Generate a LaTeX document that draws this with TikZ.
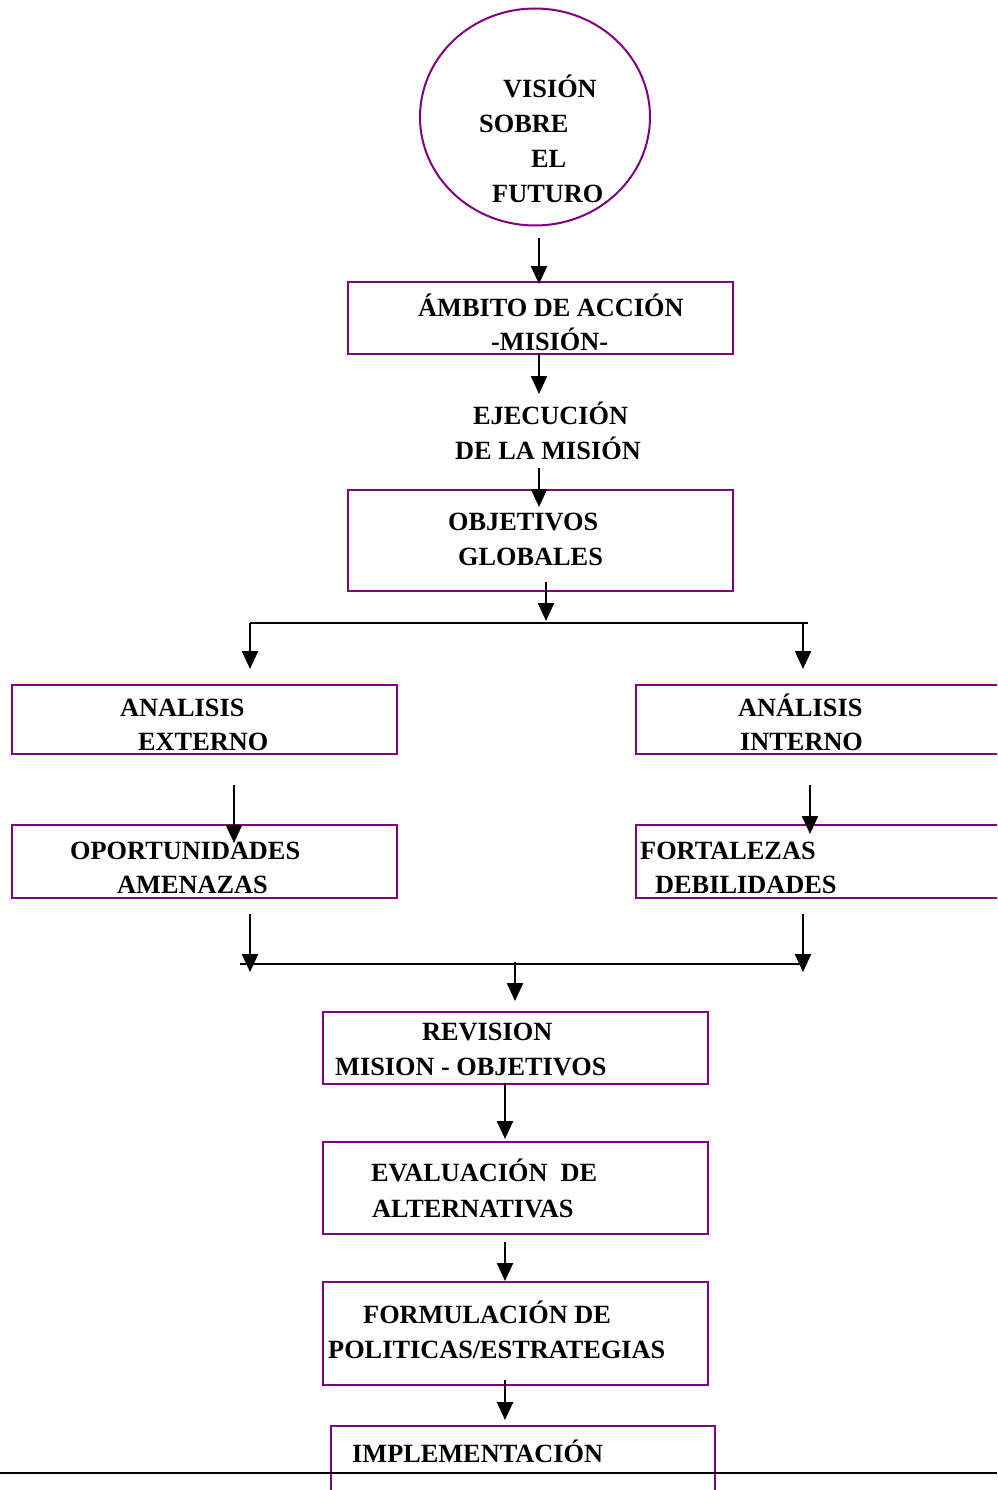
\documentclass[tikz,border=0pt]{standalone}
\usepackage{fontspec}
\setmainfont{Liberation Serif}
\usetikzlibrary{arrows.meta,shapes.geometric}
\definecolor{boxpurple}{RGB}{128,0,128}
\tikzset{
  every picture/.style={x=1pt,y=-1pt},
  boxnode/.style={draw=boxpurple, line width=2pt, rectangle, inner sep=0pt, anchor=north west},
  lbl/.style={anchor=base west, inner sep=0pt, yshift=1.5pt, font=\fontsize{26.3}{35}\selectfont\bfseries},
  arr/.style={line width=2.4pt, -{Triangle[width=16pt,length=18pt]}},
  ln/.style={line width=2.2pt}
}
\begin{document}
\begin{tikzpicture}
\useasboundingbox (0,0) rectangle (997,1490);
\clip (0,0) rectangle (997,1490);
\fill[white] (0,0) rectangle (997,1490);

% Circle
\node[draw=boxpurple, line width=2pt, ellipse, minimum width=230pt, minimum height=217pt, inner sep=0pt] (vis) at (535,117) {};
\node[lbl] (v1) at (503,99) {VISIÓN};
\node[lbl] (v2) at (479,134) {SOBRE};
\node[lbl] (v3) at (531,169) {EL};
\node[lbl] (v4) at (492,204) {FUTURO};

% Box 1
\node[boxnode, minimum width=385pt, minimum height=72pt] (amb) at (347,281) {};
\node[lbl] (a1) at (418,318) {ÁMBITO DE ACCIÓN};
\node[lbl] (a2) at (491,352) {-MISIÓN-};

% Ejecucion
\node[lbl] (e1) at (473,426) {EJECUCIÓN};
\node[lbl] (e2) at (455,461) {DE LA MISIÓN};

% Box 2
\node[boxnode, minimum width=385pt, minimum height=101pt] (obj) at (347,489) {};
\node[lbl] (o1) at (448,532) {OBJETIVOS};
\node[lbl] (o2) at (458,567) {GLOBALES};

% Analisis boxes
\node[boxnode, minimum width=385pt, minimum height=69pt] (ext) at (11,684) {};
\node[lbl] (x1) at (120,718) {ANALISIS};
\node[lbl] (x2) at (138,752) {EXTERNO};
\node[boxnode, minimum width=385pt, minimum height=69pt] (int) at (635,684) {};
\node[lbl] (i1) at (738,718) {ANÁLISIS};
\node[lbl] (i2) at (740,752) {INTERNO};

% O/A and F/D boxes
\node[boxnode, minimum width=385pt, minimum height=73pt] (opa) at (11,824) {};
\node[lbl] (p1) at (70,861) {OPORTUNIDADES};
\node[lbl] (p2) at (117,895) {AMENAZAS};
\node[boxnode, minimum width=385pt, minimum height=73pt] (fod) at (635,824) {};
\node[lbl] (f1) at (640,861) {FORTALEZAS};
\node[lbl] (f2) at (655,895) {DEBILIDADES};

% Revision
\node[boxnode, minimum width=385pt, minimum height=72pt] (rev) at (322,1011) {};
\node[lbl] (r1) at (422,1042) {REVISION};
\node[lbl] (r2) at (335,1077) {MISION - OBJETIVOS};

% Evaluacion
\node[boxnode, minimum width=385pt, minimum height=92pt] (eva) at (322,1141) {};
\node[lbl] (ev1) at (371,1183) {EVALUACIÓN\ \ DE};
\node[lbl] (ev2) at (372,1219) {ALTERNATIVAS};

% Formulacion
\node[boxnode, minimum width=385pt, minimum height=103pt] (for) at (322,1281) {};
\node[lbl] (fo1) at (363,1325) {FORMULACIÓN DE};
\node[lbl] (fo2) at (328,1360) {POLITICAS/ESTRATEGIAS};

% Implementacion
\node[boxnode, minimum width=384pt, minimum height=120pt] (imp) at (330,1425) {};
\node[lbl] (im1) at (352,1464) {IMPLEMENTACIÓN};

% coordinates for connectors
\coordinate (c1s) at (539,238);
\coordinate (c1e) at (539,284);
\coordinate (c2s) at (539,353);
\coordinate (c2e) at (539,394);
\coordinate (c3s) at (539,468);
\coordinate (c3e) at (539,507);
\coordinate (c4s) at (546,582);
\coordinate (c4e) at (546,621);
\coordinate (hL) at (250,623);
\coordinate (hR) at (808,623);
\coordinate (hRa) at (803,623);
\coordinate (aLe) at (250,669);
\coordinate (aRe) at (803,669);
\coordinate (eLs) at (234,785);
\coordinate (eLe) at (234,843);
\coordinate (eRs) at (810,785);
\coordinate (eRe) at (810,834);
\coordinate (dLs) at (250,914);
\coordinate (dLe) at (250,972);
\coordinate (dRs) at (803,914);
\coordinate (dRe) at (803,972);
\coordinate (h2L) at (240,964);
\coordinate (h2R) at (803,964);
\coordinate (mS) at (515,962);
\coordinate (mE) at (515,1001);
\coordinate (r3s) at (505,1083);
\coordinate (r3e) at (505,1139);
\coordinate (r4s) at (505,1242);
\coordinate (r4e) at (505,1281);
\coordinate (r5s) at (505,1380);
\coordinate (r5e) at (505,1420);
\coordinate (bl) at (0,1473);
\coordinate (br) at (997,1473);

\draw[arr] (c1s) -- (c1e);
\draw[arr] (c2s) -- (c2e);
\draw[arr] (c3s) -- (c3e);
\draw[arr] (c4s) -- (c4e);
\draw[ln] (hL) -- (hR);
\draw[arr] (hL) -- (aLe);
\draw[arr] (hRa) -- (aRe);
\draw[arr] (eLs) -- (eLe);
\draw[arr] (eRs) -- (eRe);
\draw[ln] (h2L) -- (h2R);
\draw[arr] (dLs) -- (dLe);
\draw[arr] (dRs) -- (dRe);
\draw[arr] (mS) -- (mE);
\draw[arr] (r3s) -- (r3e);
\draw[arr] (r4s) -- (r4e);
\draw[arr] (r5s) -- (r5e);
\draw[ln] (bl) -- (br);
\end{tikzpicture}
\end{document}
